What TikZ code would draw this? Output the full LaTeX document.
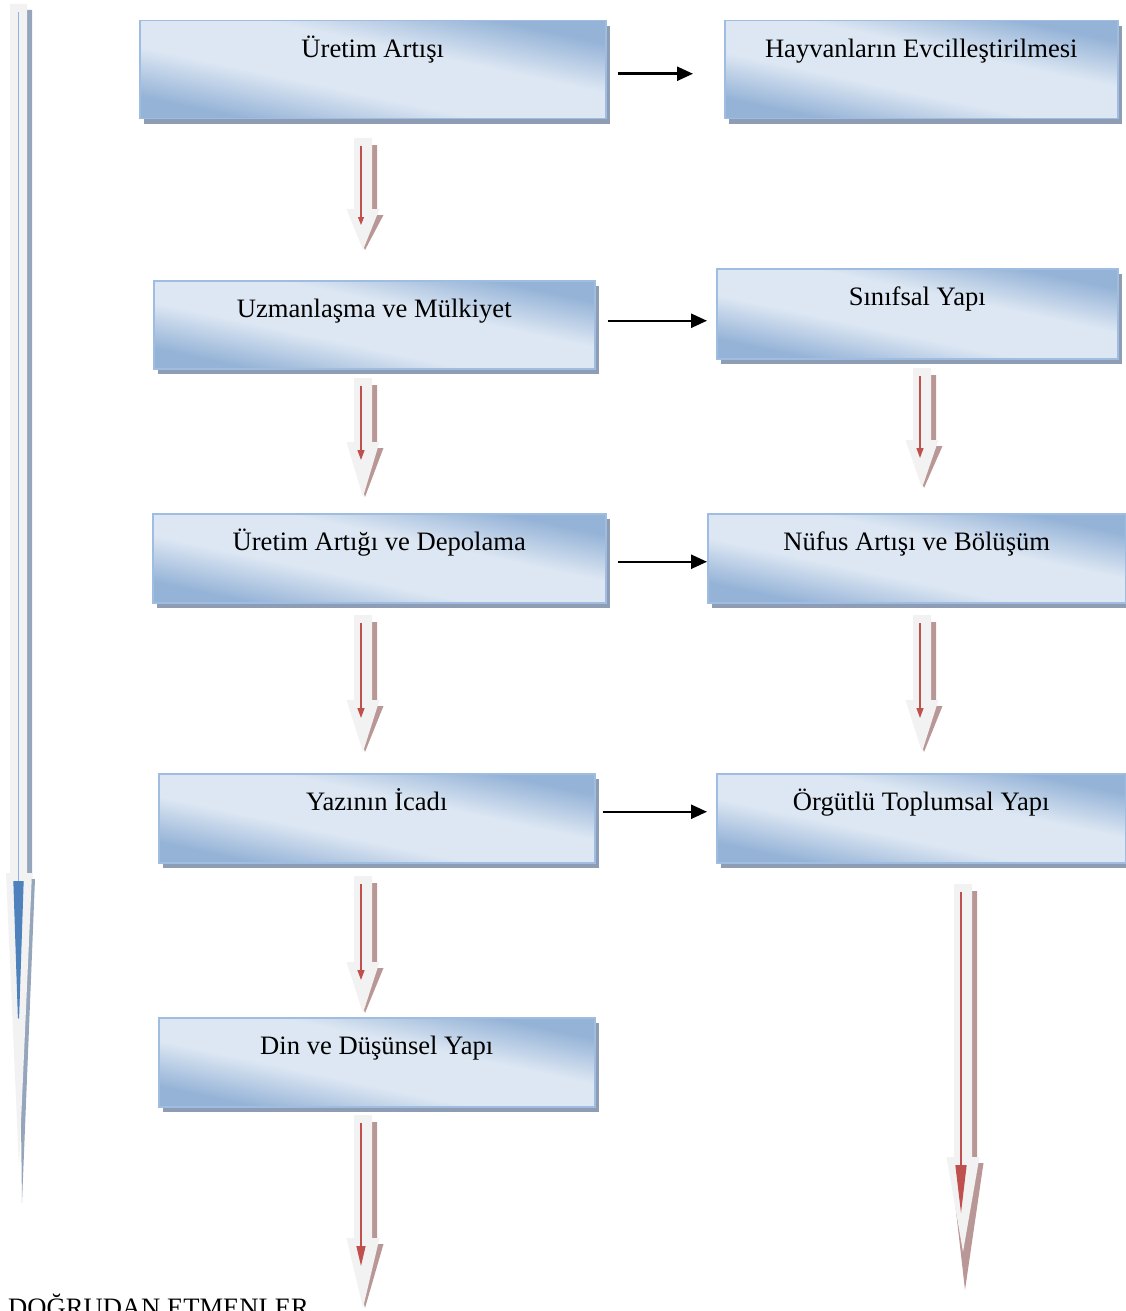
\documentclass[tikz,border=0pt]{standalone}
\usepackage{fontspec}
\setmainfont{Liberation Serif}
\usepackage{xcolor}
\usepackage{tikz}
\usetikzlibrary{arrows.meta,calc,positioning,shadows}

\definecolor{boxblue}{HTML}{95B3D7}
\definecolor{boxlight}{HTML}{DDE7F3}
\definecolor{boxborder}{HTML}{9FBDE0}
\definecolor{boxshadow}{HTML}{8E9DB3}
\definecolor{arrowgray}{HTML}{F2F2F2}
\definecolor{arrowshadow}{HTML}{B99797}
\definecolor{arrowred}{HTML}{C0504D}
\definecolor{lineblue}{HTML}{8DB3E2}
\definecolor{tipblue}{HTML}{4F81BD}
\definecolor{leftshadow}{HTML}{95A5BC}

\pgfdeclareverticalshading{boxshade}{100bp}{
  color(0bp)=(boxblue); color(27bp)=(boxblue); color(42bp)=(boxlight);
  color(58bp)=(boxlight); color(73bp)=(boxblue); color(100bp)=(boxblue)}

\begin{document}
\begin{tikzpicture}[
x=1pt, y=-1pt,
blocknode/.style={rectangle, anchor=north west, draw=boxborder, line width=1.5pt,
  shading=boxshade, shading angle=-12,
  drop shadow={shadow xshift=4pt, shadow yshift=-5pt, fill=boxshadow, opacity=1},
  inner sep=0pt, text height=37pt, text depth=52pt,
  font=\fontsize{26.6pt}{30pt}\selectfont},
linkarrow/.style={line width=2.5pt, -{Triangle[length=16pt, width=14pt]}},
redline/.style={draw=arrowred, line width=1.3pt},
]
\useasboundingbox (0,0) rectangle (1126,1311);

%Left arrow
\fill[leftshadow] (15,10) -- (32,10) -- (32,879) -- (35,879) -- (22,1203) -- (18,879) -- cycle;
\fill[arrowgray] (10,4) -- (27,4) -- (27,873) -- (32,873) -- (19,1168) -- (6,873) -- (10,873) -- cycle;
\draw[draw=lineblue, line width=1.2pt, -{Triangle[length=156pt, width=10pt, color=tipblue]}] (18.5,12) -- (18.5,1037);

%Nodes
\node[blocknode, minimum width=466pt, text depth=61pt] (uretim) at (139,20)  {Üretim Artışı};
\node[blocknode, minimum width=393pt, text depth=61pt] (hayvan) at (724,20)  {Hayvanların Evcilleştirilmesi};
\node[blocknode, minimum width=441pt, text depth=51pt] (uzman)  at (153,280) {Uzmanlaşma ve Mülkiyet};
\node[blocknode, minimum width=401pt, text depth=53pt] (sinif)  at (716,268) {Sınıfsal Yapı};
\node[blocknode, minimum width=453pt]                  (depo)   at (152,513) {Üretim Artığı ve Depolama};
\node[blocknode, minimum width=418pt]                  (nufus)  at (707,513) {Nüfus Artışı ve Bölüşüm};
\node[blocknode, minimum width=436pt]                  (yazi)   at (158,773) {Yazının İcadı};
\node[blocknode, minimum width=409pt]                  (orgut)  at (716,773) {Örgütlü Toplumsal Yapı};
\node[blocknode, minimum width=436pt]                  (din)    at (158,1017) {Din ve Düşünsel Yapı};

\node[anchor=base west, inner sep=0pt, font=\fontsize{26.6pt}{30pt}\selectfont] (etmen) at (8,1316) {DOĞRUDAN ETMENLER};

%Lines
\draw[linkarrow, shorten <=11pt, shorten >=31pt] ([yshift=-4pt]uretim.east) -- ([yshift=-4pt]uretim.east -| hayvan.west);
\draw[linkarrow, shorten <=12pt, shorten >=9pt] ([yshift=4pt]uzman.east) -- ([yshift=4pt]uzman.east -| sinif.west);
\draw[linkarrow, shorten <=11pt] ([yshift=-3.5pt]depo.east) -- ([yshift=-3.5pt]depo.east -| nufus.west);
\draw[linkarrow, shorten <=7pt, shorten >=9pt] ([yshift=6.5pt]yazi.east) -- ([yshift=6.5pt]yazi.east -| orgut.west);

%Down arrows
\foreach \cx/\top/\hd/\tip/\ext/\rl/\rw in {
  363/138/209/250/0/8/6,
  363/378/442/497/0/10/7,
  363/615/700/752/0/10/7,
  363/876/962/1013/0/10/7,
  363/1115/1238/1308/0/20/9,
  922/368/440/488/0/10/7,
  922/615/700/752/0/10/7,
  963/884/1157/1252/38/48/11}
{
  \fill[arrowshadow] (\cx-4,\top+7) -- (\cx+14,\top+7) -- (\cx+14,\hd+6) -- (\cx+20.5,\hd+6)
    -- (\cx+2,\tip+\ext) -- (\cx-12.5,\hd+6) -- (\cx-4,\hd+6) -- cycle;
  \fill[arrowgray] (\cx-9,\top) -- (\cx+9,\top) -- (\cx+9,\hd) -- (\cx+16.5,\hd)
    -- (\cx,\tip) -- (\cx-16.5,\hd) -- (\cx-9,\hd) -- cycle;
  \draw[redline, -{Triangle[length=\rl pt, width=\rw pt]}] (\cx-2,\top+8) -- (\cx-2,\hd+8+\rl);
}
\end{tikzpicture}
\end{document}
